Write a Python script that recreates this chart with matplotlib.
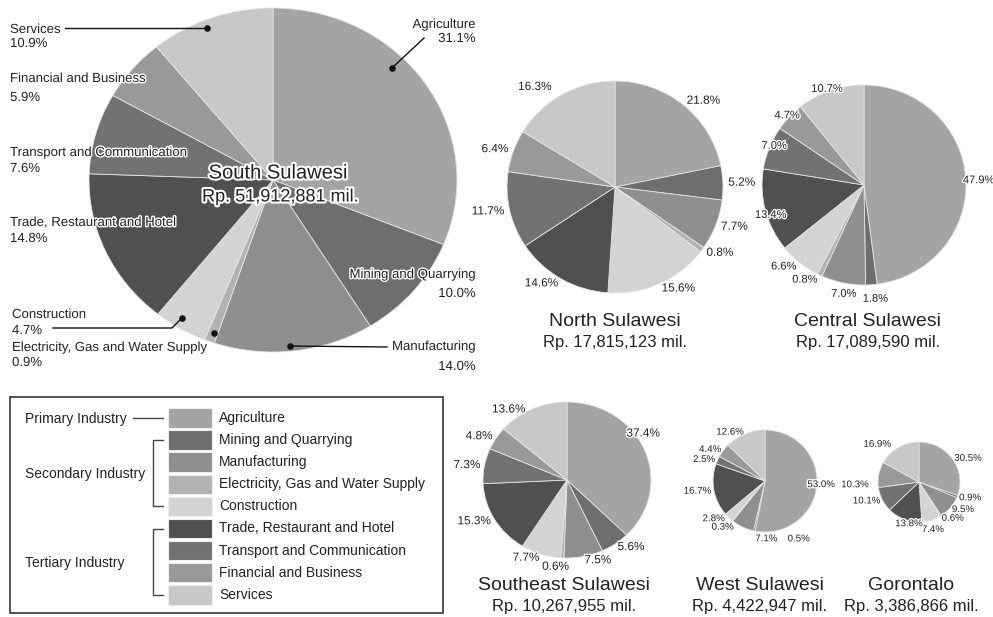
import matplotlib.pyplot as plt
import matplotlib.patheffects as pe
from matplotlib.patches import Rectangle

W, H = 993, 617

sectors = ["Agriculture", "Mining and Quarrying", "Manufacturing",
           "Electricity, Gas and Water Supply", "Construction",
           "Trade, Restaurant and Hotel", "Transport and Communication",
           "Financial and Business", "Services"]
colors = ["#a4a4a4", "#6e6e6e", "#8f8f8f", "#b2b2b2", "#d3d3d3",
          "#505050", "#727272", "#999999", "#c8c8c8"]

groups = ["Primary Industry", "Secondary Industry", "Tertiary Industry"]
group_rows = [(0, 0), (1, 4), (5, 8)]

provinces = ["South Sulawesi", "North Sulawesi", "Central Sulawesi",
             "Southeast Sulawesi", "West Sulawesi", "Gorontalo"]
totals = ["51,912,881", "17,815,123", "17,089,590",
          "10,267,955", "4,422,947", "3,386,866"]

south = [31.1, 10.0, 14.0, 0.9, 4.7, 14.8, 7.6, 5.9, 10.9]
north = [21.8, 5.2, 7.7, 0.8, 15.6, 14.6, 11.7, 6.4, 16.3]
central = [47.9, 1.8, 7.0, 0.8, 6.6, 13.4, 7.0, 4.7, 10.7]
southeast = [37.4, 5.6, 7.5, 0.6, 7.7, 15.3, 7.3, 4.8, 13.6]
west = [53.0, 0.5, 7.1, 0.3, 2.8, 16.7, 2.5, 4.4, 12.6]
gorontalo = [30.5, 0.9, 9.5, 0.6, 7.4, 13.8, 10.1, 10.3, 16.9]

plt.rcParams['font.family'] = ['Liberation Sans', 'DejaVu Sans']
txt = '#222222'
halo = [pe.withStroke(linewidth=2, foreground='white')]

fig = plt.figure(figsize=(W / 100, H / 100), dpi=100)


def px_axes(cx, cy, rx, ry):
    # axes placed in pixel units (origin top-left)
    return fig.add_axes([(cx - rx) / W, 1 - (cy + ry) / H, 2 * rx / W, 2 * ry / H])


def draw_pie(ax, vals, labels=None, dist=1.05, fs=8):
    res = ax.pie(vals, colors=colors, startangle=90, counterclock=False,
                 labels=labels, labeldistance=dist,
                 wedgeprops=dict(edgecolor='#e4e4e4', linewidth=0.6),
                 textprops=dict(fontsize=fs, color=txt, path_effects=halo))
    ax.set_aspect('auto')
    ax.set_xlim(-1, 1)
    ax.set_ylim(-1, 1)
    return res


# main pie: South Sulawesi
ax0 = px_axes(273, 180, 184, 172)
draw_pie(ax0, south)

# smaller provinces: (values, cx, cy, rx, ry, label size, title x, title y)
small = [
    (north, 615, 187, 108, 106, 8.5, 615, 322),
    (central, 864, 185, 102, 100, 8, 868, 322),
    (southeast, 567, 480, 84, 78, 8.5, 564, 586),
    (west, 765, 481, 52, 51, 7, 760, 586),
    (gorontalo, 919, 482, 41, 40, 7, 911, 586),
]
# pixel nudges for crowded percentage labels {label index: (dx, dy)}
nudges = [
    {8: (-8, -3)},
    {0: (-8, 2), 1: (-9, 9), 2: (14, 6), 5: (26, 3), 6: (22, 0),
     7: (14, 2), 8: (14, 3)},
    {0: (-22, -15), 3: (7, 5), 8: (-5, 4)},
    {0: (-12, -2), 1: (56, 5), 2: (36, 9), 3: (3, 4), 4: (-2, -1)},
    {4: (-10, 7), 5: (19, 2), 7: (-8, 10), 8: (-6, -2)},
]

ov = fig.add_axes([0, 0, 1, 1])
ov.set_xlim(0, W)
ov.set_ylim(H, 0)
ov.axis('off')

for i, (vals, cx, cy, rx, ry, fs, tx, ty) in enumerate(small):
    ax = px_axes(cx, cy, rx, ry)
    _, texts = draw_pie(ax, vals, labels=[f"{v:.1f}%" for v in vals], fs=fs)
    for k, (dx, dy) in nudges[i].items():
        x, y = texts[k].get_position()
        texts[k].set_position((x + dx / rx, y - dy / ry))
    ov.text(tx, ty, provinces[i + 1], fontsize=14, color=txt,
            ha='center', va='center')
    ov.text(tx, ty + 20, f"Rp. {totals[i + 1]} mil.", fontsize=12,
            color=txt, ha='center', va='center')

# South Sulawesi title inside the pie
big_halo = [pe.withStroke(linewidth=3, foreground='white')]
ov.text(278, 173, provinces[0], fontsize=14.5, color=txt, ha='center',
        va='center', path_effects=big_halo)
ov.text(280, 197, f"Rp. {totals[0]} mil.", fontsize=13, color=txt, ha='center',
        va='center', path_effects=big_halo)

# (sector index, text x, name y, pct y, ha)
callouts = [
    (0, 476, 25, 39, 'right'),
    (1, 476, 275, 294, 'right'),
    (2, 476, 347, 367, 'right'),
    (3, 12, 348, 363, 'left'),
    (4, 12, 315, 331, 'left'),
    (5, 10, 223, 239, 'left'),
    (6, 10, 153, 169, 'left'),
    (7, 10, 79, 98, 'left'),
    (8, 10, 30, 44, 'left'),
]
for k, x, y1, y2, ha in callouts:
    ov.text(x, y1, sectors[k], fontsize=9.5, color=txt, ha=ha, va='center',
            path_effects=halo)
    ov.text(x, y2, f"{south[k]:.1f}%", fontsize=9.5, color=txt, ha=ha,
            va='center', path_effects=halo)

leader_lines = [
    ([424, 392], [38, 68]),
    ([65, 207], [28, 28]),
    ([53, 172, 182], [328, 328, 318]),
    ([387, 290], [347, 346]),
]
for xs, ys in leader_lines:
    ov.plot(xs, ys, color='#111111', lw=1)
dots_x = [392, 207, 182, 290, 214]
dots_y = [68, 28, 318, 346, 333]
ov.scatter(dots_x, dots_y, s=14, color='#111111', zorder=5)

# legend box
ov.add_patch(Rectangle((10, 397), 433, 216, fill=False, edgecolor='#444444', lw=1.3))
row_y = [418 + 22.1 * i for i in range(len(sectors))]
for i, s in enumerate(sectors):
    ov.add_patch(Rectangle((168, row_y[i] - 9.8), 44, 19.5, facecolor=colors[i],
                           edgecolor='#eeeeee', lw=0.8))
    ov.text(219, row_y[i], s, fontsize=10, color=txt, ha='left', va='center')

for g, (a, b) in zip(groups, group_rows):
    ym = (row_y[a] + row_y[b]) / 2
    ov.text(25, ym + 1, g, fontsize=10, color=txt, ha='left', va='center')
    if a == b:
        ov.plot([133, 163], [row_y[a], row_y[a]], color='#444444', lw=1)
    else:
        ov.plot([163, 153, 153, 163], [row_y[a], row_y[a], row_y[b], row_y[b]],
                color='#444444', lw=1)

fig.savefig('out.png', dpi=100, facecolor='white')
